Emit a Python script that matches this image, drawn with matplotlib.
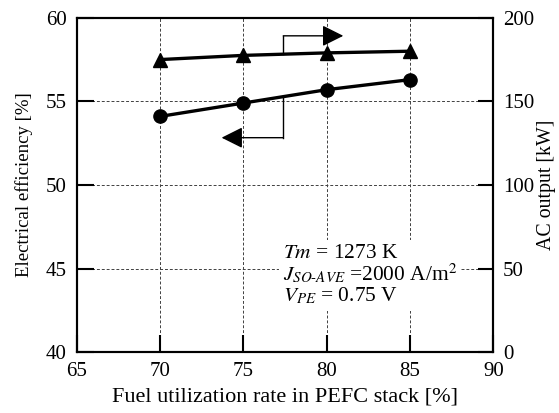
import matplotlib
matplotlib.use('Agg')
import matplotlib.pyplot as plt

plt.rcParams['font.family'] = 'Liberation Serif'
plt.rcParams['mathtext.fontset'] = 'stix'

# ── Data ──
fuel_util = [70, 75, 80, 85]
efficiency = [54.1, 54.9, 55.7, 56.3]        # left axis [%]
ac_output = [175, 177.5, 179, 180]           # right axis [kW]

x_ticks = [65, 70, 75, 80, 85, 90]
eff_ticks = [40, 45, 50, 55, 60]
kw_ticks = [0, 50, 100, 150, 200]

cond_lines = ['$Tm$ = 1273 K',
              '$J_{SO\\text{-}AVE}$ =2000 A/m$^2$',
              '$V_{PE}$ = 0.75 V']

fig = plt.figure(figsize=(5.59, 4.13), dpi=100)
ax = fig.add_axes([0.137, 0.147, 0.7455, 0.81])
ax2 = ax.twinx()

ax.set_xlim(65, 90)
ax.set_ylim(40, 60)
ax2.set_ylim(0, 200)
ax.set_xticks(x_ticks)
ax.set_yticks(eff_ticks)
ax2.set_yticks(kw_ticks)

ax.grid(True, ls=(0, (3, 2)), color='0.25', lw=0.7)
ax.set_axisbelow(True)

for a in (ax, ax2):
    for s in a.spines.values():
        s.set_linewidth(1.5)
ax.tick_params(direction='in', length=12, width=1.5, labelsize=15, pad=7, top=False, right=False)
ax2.tick_params(direction='in', length=11, width=1.5, labelsize=15, pad=7)

ax.plot(fuel_util, efficiency, '-o', color='black', lw=2.4, ms=9.5, zorder=3)
ax2.plot(fuel_util, ac_output, '-^', color='black', lw=2.4, ms=10, zorder=3)

ax.set_xlabel('Fuel utilization rate in PEFC stack [%]', fontsize=16, labelpad=5)
ax.set_ylabel('Electrical efficiency [%]', fontsize=13.5, labelpad=9)
ax2.set_ylabel('AC output [kW]', fontsize=14.3, labelpad=2)

# axis indicator brackets (drawn in left-axis data coordinates)
bx = 77.4
ax2.plot([bx, bx], [57.85, 58.92], color='black', lw=1.0, transform=ax.transData, zorder=4)
ax2.annotate('', xy=(81.0, 58.92), xytext=(bx, 58.92), xycoords=ax.transData, textcoords=ax.transData,
             arrowprops=dict(arrowstyle='-|>,head_length=1.3,head_width=0.65', color='black',
                             lw=1.0, shrinkA=0, shrinkB=0, mutation_scale=10), zorder=4)
ax2.plot([bx, bx], [55.3, 52.83], color='black', lw=1.0, transform=ax.transData, zorder=4)
ax2.annotate('', xy=(73.7, 52.83), xytext=(bx, 52.83), xycoords=ax.transData, textcoords=ax.transData,
             arrowprops=dict(arrowstyle='-|>,head_length=1.3,head_width=0.65', color='black',
                             lw=1.0, shrinkA=0, shrinkB=0, mutation_scale=10), zorder=4)

# operating conditions (baseline refers to the last line)
ax2.text(77.36, 43.02, '\n'.join(cond_lines), transform=ax.transData, fontsize=15.4,
         va='baseline', ha='left', linespacing=0.97,
         bbox=dict(facecolor='white', edgecolor='none', pad=3), zorder=5)

fig.savefig('out.png', dpi=100)
